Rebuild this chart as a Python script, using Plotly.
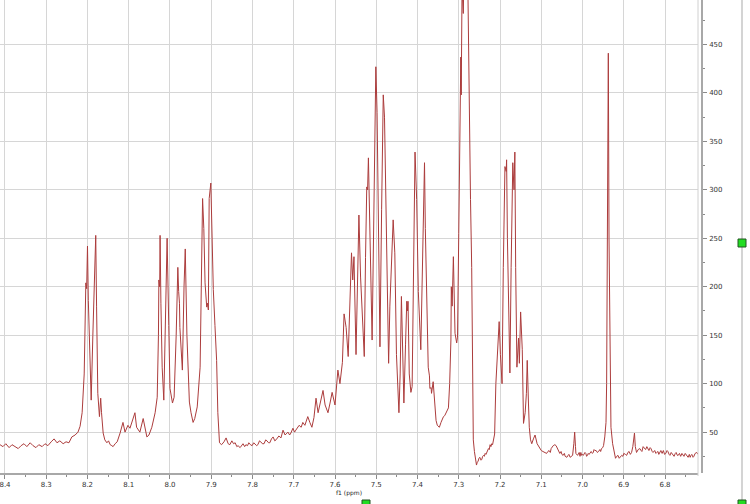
import plotly.graph_objects as go

# ---- data: (chemical shift in ppm, intensity) ----
seg_baseline_left = [(8.412,37),(8.405,35),(8.398,38),(8.390,34),(8.383,37),(8.376,35),(8.368,33),
    (8.361,36),(8.354,38),(8.347,35),(8.339,39),(8.332,36),(8.325,34),(8.318,37),(8.310,35),(8.303,38),
    (8.296,36),(8.288,40),(8.281,43),(8.274,39),(8.267,41),(8.259,38),(8.252,40),(8.245,39),(8.238,45),
    (8.230,47),(8.223,50)]
seg_multiplet_820 = [(8.218,56),(8.213,70),(8.208,110),(8.206,160),(8.204,204),(8.202,198),(8.200,242),
    (8.198,186),(8.196,150),(8.194,114),(8.191,83),(8.187,150),(8.183,220),(8.180,253),(8.178,180),
    (8.175,90),(8.171,66),(8.168,85),(8.166,70),(8.162,49),(8.158,42),(8.153,39),(8.149,41),(8.145,37),
    (8.141,36),(8.138,35),(8.133,38),(8.128,40),(8.121,49),(8.114,60),(8.109,50),(8.102,57),(8.097,54),
    (8.093,59),(8.085,70),(8.081,55),(8.077,52),(8.073,50),(8.065,64),(8.060,52),(8.056,45),(8.051,47),
    (8.044,55),(8.036,70),(8.031,86)]
seg_multiplet_800 = [(8.028,150),(8.027,207),(8.025,200),(8.024,253),(8.022,183),(8.019,117),(8.015,83),
    (8.011,160),(8.007,250),(8.003,160),(8.000,95),(7.994,80),(7.990,86),(7.985,150),(7.981,220),
    (7.979,195),(7.977,183),(7.976,158),(7.970,114),(7.966,200),(7.963,239),(7.959,150),(7.953,81),
    (7.949,70),(7.944,60),(7.940,64),(7.934,76),(7.927,117),(7.924,220),(7.921,291),(7.918,260),
    (7.915,204),(7.911,179),(7.909,183),(7.907,176),(7.905,291),(7.901,307),(7.898,250),(7.895,197),
    (7.891,160),(7.887,124),(7.884,70),(7.880,39)]
seg_baseline_mid = [(7.875,37),(7.869,40),(7.864,44),(7.859,38),(7.855,37),(7.850,41),(7.846,38),
    (7.842,39),(7.838,35),(7.835,36),(7.830,34),(7.826,37),(7.823,38),(7.819,35),(7.816,37),(7.812,36),
    (7.809,39),(7.805,37),(7.801,36),(7.797,39),(7.794,38),(7.790,36),(7.787,37),(7.783,41),(7.780,40),
    (7.776,38),(7.772,38),(7.768,42),(7.765,41),(7.761,39),(7.758,39),(7.754,43),(7.750,45),(7.746,41),
    (7.743,42),(7.739,45),(7.736,46),(7.731,44),(7.726,52),(7.721,47),(7.717,49),(7.714,50),(7.710,47),
    (7.707,49),(7.702,54),(7.698,50),(7.695,52),(7.691,55),(7.687,57),(7.682,55),(7.678,60),(7.673,57),
    (7.669,62),(7.666,66),(7.661,60),(7.656,55),(7.651,65),(7.646,85),(7.641,70),(7.635,80),(7.629,93),
    (7.624,78),(7.617,70),(7.612,80),(7.607,91),(7.600,78),(7.596,100),(7.593,114),(7.588,100)]
seg_multiplet_750 = [(7.582,122),(7.578,172),(7.576,165),(7.573,158),(7.568,128),(7.564,180),(7.560,235),
    (7.557,207),(7.554,231),(7.549,130),(7.545,200),(7.542,274),(7.538,210),(7.533,160),(7.529,128),
    (7.526,230),(7.523,303),(7.521,300),(7.519,333),(7.515,250),(7.510,145),(7.505,300),(7.501,427),
    (7.498,380),(7.495,250),(7.491,138),(7.487,280),(7.483,398),(7.480,375),(7.479,351),(7.474,220),
    (7.470,121),(7.467,180),(7.462,238),(7.461,232),(7.459,269),(7.455,235),(7.451,130),(7.445,70),
    (7.442,110),(7.439,190),(7.436,130),(7.433,80),(7.429,140),(7.426,185),(7.424,175),(7.423,185),
    (7.420,110),(7.416,91),(7.413,97)]
seg_multiplet_738 = [(7.409,220),(7.406,339),(7.402,290),(7.398,195),(7.392,135),(7.389,210),(7.387,272),
    (7.383,328),(7.381,260),(7.379,220),(7.377,200),(7.374,117),(7.371,108),(7.370,95),(7.367,96),
    (7.366,90),(7.362,102),(7.359,88),(7.355,62),(7.352,57),(7.347,55),(7.343,60),(7.340,63),(7.337,66),
    (7.334,67),(7.331,70),(7.328,72),(7.325,75)]
seg_multiplet_729 = [(7.322,100),(7.319,145),(7.318,200),(7.316,180),(7.313,231),(7.312,200),(7.309,152),
    (7.305,142),(7.303,148),(7.300,255),(7.297,380),(7.295,437),(7.294,398),(7.292,510),(7.289,482),
    (7.287,530),(7.2836,600),(7.280,580),(7.2776,500),(7.2744,345),(7.2715,290),(7.2686,220),
    (7.2662,110),(7.2647,42)]
seg_tail_725 = [(7.262,30),(7.257,16),(7.255,19),(7.253,20),(7.251,23),(7.249,24),(7.246,21),(7.244,22),
    (7.242,25),(7.240,26),(7.238,25),(7.236,28),(7.234,27),(7.232,29),(7.230,31),(7.228,33),(7.226,32),
    (7.224,37),(7.222,35),(7.220,38),(7.218,37),(7.216,42),(7.213,48)]
seg_multiplet_717 = [(7.210,100),(7.206,140),(7.204,142),(7.202,164),(7.199,130),(7.198,121),(7.195,100),
    (7.192,220),(7.188,324),(7.185,319),(7.184,331),(7.182,250),(7.179,160),(7.176,111),(7.173,220),
    (7.169,328),(7.166,300),(7.164,339),(7.162,220),(7.159,117),(7.155,147),(7.153,121),(7.150,174),
    (7.148,150),(7.146,135),(7.143,59),(7.139,70),(7.136,90),(7.134,124),(7.131,80),(7.129,55)]
seg_baseline_right = [(7.126,42),(7.123,38),(7.119,43),(7.115,47),(7.110,38),(7.105,34),(7.100,31),
    (7.096,30),(7.091,29),(7.087,28),(7.084,30),(7.081,31),(7.078,29),(7.076,33),(7.071,36),(7.067,37),
    (7.064,36),(7.062,34),(7.058,30),(7.055,28),(7.052,30),(7.050,27),(7.047,26),(7.044,28),(7.042,25),
    (7.038,24),(7.035,26),(7.033,27),(7.030,24),(7.028,25),(7.024,26),(7.021,38),(7.019,50),(7.017,35),
    (7.016,28),(7.012,26),(7.010,27),(7.008,29),(7.006,25),(7.004,29),(7.002,26),(7.000,27),(6.998,26),
    (6.996,28),(6.994,29),(6.992,28),(6.990,25),(6.988,26),(6.986,28),(6.984,27),(6.981,29),(6.979,30),
    (6.976,28),(6.974,29),(6.972,32),(6.970,31),(6.967,31),(6.964,29),(6.961,30),(6.958,32),(6.956,30),
    (6.954,33),(6.951,34),(6.949,36),(6.946,45)]
seg_singlet_693 = [(6.943,60),(6.9415,100),(6.9395,250),(6.9374,441),(6.9357,250),(6.9333,90),
    (6.931,55),(6.927,38)]
seg_baseline_far_right = [(6.924,30),(6.920,23),(6.917,25),(6.914,26),(6.911,23),(6.909,24),(6.905,26),
    (6.902,25),(6.900,28),(6.896,27),(6.893,26),(6.890,29),(6.887,30),(6.884,27),(6.881,29),(6.878,35),
    (6.874,49),(6.872,35),(6.869,29),(6.865,32),(6.861,33),(6.858,31),(6.856,30),(6.853,35),(6.851,34),
    (6.847,32),(6.844,35),(6.841,33),(6.839,31),(6.836,34),(6.834,33),(6.831,30),(6.829,29),(6.825,31),
    (6.822,28),(6.820,29),(6.817,30),(6.815,27),(6.812,29),(6.810,31),(6.807,28),(6.804,31),(6.801,27),
    (6.798,28),(6.795,31),(6.793,30),(6.790,27),(6.788,26),(6.785,29),(6.783,28),(6.780,26),(6.778,25),
    (6.775,28),(6.773,29),(6.770,26),(6.768,26),(6.765,28),(6.762,25),(6.759,28),(6.756,26),(6.754,25),
    (6.751,28),(6.749,27),(6.746,25),(6.744,24),(6.741,27),(6.739,24),(6.737,26),(6.735,27),(6.732,24),
    (6.730,25),(6.727,28),(6.723,29),(6.720,27)]

segments = [seg_baseline_left, seg_multiplet_820, seg_multiplet_800, seg_baseline_mid,
            seg_multiplet_750, seg_multiplet_738, seg_multiplet_729, seg_tail_725,
            seg_multiplet_717, seg_baseline_right, seg_singlet_693, seg_baseline_far_right]

x_tick_vals = [8.4, 8.3, 8.2, 8.1, 8.0, 7.9, 7.8, 7.7, 7.6, 7.5, 7.4, 7.3, 7.2, 7.1, 7.0, 6.9, 6.8]
x_tick_text = ["8.4", "8.3", "8.2", "8.1", "8.0", "7.9", "7.8", "7.7", "7.6", "7.5", "7.4",
               "7.3", "7.2", "7.1", "7.0", "6.9", "6.8"]
y_tick_vals = [50, 100, 150, 200, 250, 300, 350, 400, 450]
x_title = "f1 (ppm)"

ppm = [p for seg in segments for p, _ in seg]
intensity = [v for seg in segments for _, v in seg]

# ---- figure ----
W, H = 750, 504
ML, MR, MT, MB = 0, 40, 0, 31
PW, PH = W - ML - MR, H - MT - MB

def px(xpix):
    return (xpix - ML) / PW

def py(ypix):
    return (H - MB - ypix) / PH

fig = go.Figure()
fig.add_trace(go.Scatter(x=ppm, y=intensity, mode="lines",
                         line=dict(color="#ac3c3c", width=1), hoverinfo="x+y"))

font = dict(family="DejaVu Sans", size=7, color="#333333")

fig.update_layout(
    width=W, height=H,
    margin=dict(l=ML, r=MR, t=MT, b=MB, pad=0, autoexpand=False),
    paper_bgcolor="white", plot_bgcolor="white",
    showlegend=False,
    font=font,
    xaxis=dict(
        domain=[0, px(698)],
        range=[8.4121, 6.7200],
        tickvals=x_tick_vals, ticktext=x_tick_text,
        ticks="outside", ticklen=4, tickcolor="#8a8a8a", tickwidth=1,
        minor=dict(dtick=0.05, tick0=0, ticks="outside", ticklen=2, tickcolor="#8a8a8a", showgrid=False),
        showgrid=True, gridcolor="#d6d6d6", gridwidth=1,
        showline=True, linecolor="#a8a8a8", linewidth=1.5,
        zeroline=False, tickfont=font, automargin=False, ticklabeloverflow="allow",
    ),
    yaxis=dict(
        range=[7.8, 495.9],
        side="right", anchor="free", position=px(702),
        tickvals=y_tick_vals,
        ticks="outside", ticklen=4, tickcolor="#8a8a8a", tickwidth=1,
        minor=dict(dtick=25, tick0=0, ticks="outside", ticklen=2, tickcolor="#8a8a8a", showgrid=False),
        showgrid=True, gridcolor="#d6d6d6", gridwidth=1,
        showline=True, linecolor="#a8a8a8", linewidth=1.5,
        zeroline=False, tickfont=font, ticklabelstandoff=1, automargin=False,
        ticklabeloverflow="allow",
    ),
)

fig.add_annotation(text=x_title, xref="paper", yref="paper", x=px(349), y=py(493),
                   showarrow=False, font=dict(family="DejaVu Sans", size=6, color="#222222"),
                   xanchor="center", yanchor="middle")

shapes = [
    # plot frame right edge
    dict(type="line", xref="paper", yref="paper", x0=px(698), x1=px(698), y0=py(0), y1=py(476),
         line=dict(color="#d0d0d0", width=1)),
    # grey line at far right
    dict(type="line", xref="paper", yref="paper", x0=px(742), x1=px(742), y0=py(0), y1=py(504),
         line=dict(color="#d4d4d4", width=2)),
]
for (x0, y0) in [(738, 239), (738, 500), (362, 500)]:
    shapes.append(dict(type="rect", xref="paper", yref="paper",
                       x0=px(x0), x1=px(x0 + 8), y0=py(y0), y1=py(y0 + 8),
                       fillcolor="#22dd22", line=dict(color="#225522", width=1)))
fig.update_layout(shapes=shapes)

fig.write_html("out.html", config={"displayModeBar": False},
               post_script="document.body.style.margin='0';document.body.style.overflow='hidden';")
